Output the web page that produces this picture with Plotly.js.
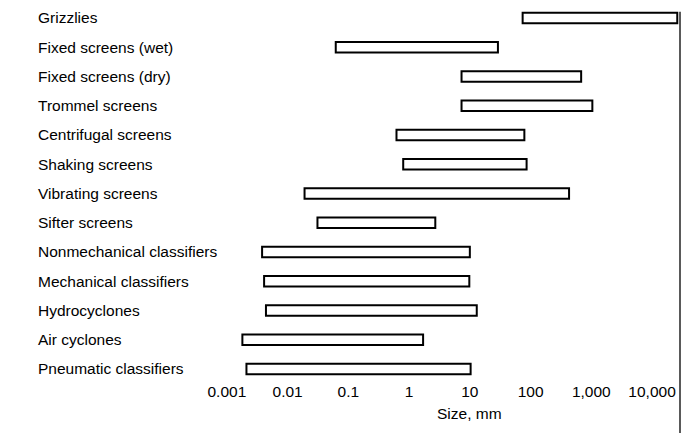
<!DOCTYPE html>
<html>
<head>
<meta charset="utf-8">
<script src="https://cdn.plot.ly/plotly-3.0.1.min.js"></script>
<style>html,body{margin:0;padding:0;background:#fff;}#chart{width:698px;height:433px;}</style>
</head>
<body>
<div id="chart"></div>
<script>
// Size ranges (mm) of sizing equipment
var categories = ["Grizzlies", "Fixed screens (wet)", "Fixed screens (dry)", "Trommel screens",
  "Centrifugal screens", "Shaking screens", "Vibrating screens", "Sifter screens",
  "Nonmechanical classifiers", "Mechanical classifiers", "Hydrocyclones", "Air cyclones",
  "Pneumatic classifiers"];
var minSize = [74, 0.062, 7.3, 7.3, 0.62, 0.8, 0.019, 0.031, 0.0038, 0.0041, 0.0044, 0.0018, 0.0021];
var maxSize = [26000, 29, 680, 1040, 79, 86, 430, 2.7, 10, 9.8, 13, 1.7, 10.3];
var tickValues = [0.001, 0.01, 0.1, 1, 10, 100, 1000, 10000];
var tickLabels = ["0.001", "0.01", "0.1", "1", "10", "100", "1,000", "10,000"];

var FONT = "Liberation Sans, Arial, Helvetica, sans-serif";

var trace = {
  type: "bar",
  orientation: "h",
  y: categories,
  base: minSize,
  x: minSize.map(function (v, i) { return maxSize[i] - v; }),
  width: 0.36,
  marker: { color: "#ffffff", line: { color: "#000000", width: 2 } },
  hoverinfo: "skip"
};

var layout = {
  width: 698, height: 433,
  margin: { l: 35, r: 18, t: 5, b: 53 },
  paper_bgcolor: "#ffffff", plot_bgcolor: "#ffffff",
  showlegend: false,
  font: { family: FONT, size: 15.5, color: "#000000" },
  xaxis: {
    type: "log",
    range: [-6.159, 4.46],
    tickvals: tickValues,
    ticktext: tickLabels,
    showgrid: false, zeroline: false, showline: false, ticks: "",
    tickfont: { family: FONT, size: 15.5, color: "#000000" }
  },
  yaxis: {
    type: "category",
    range: [12.376, -0.444],
    showgrid: false, zeroline: false, showline: false, ticks: "",
    ticklabelposition: "inside",
    tickfont: { family: FONT, size: 15.5, color: "#000000" }
  },
  annotations: [{
    text: "Size, mm", xref: "paper", yref: "paper",
    x: 0.674, y: -0.088, xanchor: "center", yanchor: "middle",
    showarrow: false, font: { family: FONT, size: 15.5, color: "#000000" }
  }],
  shapes: [{
    type: "line", xref: "paper", yref: "paper",
    x0: 1, x1: 1, y0: -0.2, y1: 0.982,
    line: { color: "#000000", width: 1.3 }
  }]
};

Plotly.newPlot("chart", [trace], layout, { displayModeBar: false, staticPlot: true });
</script>
</body>
</html>
